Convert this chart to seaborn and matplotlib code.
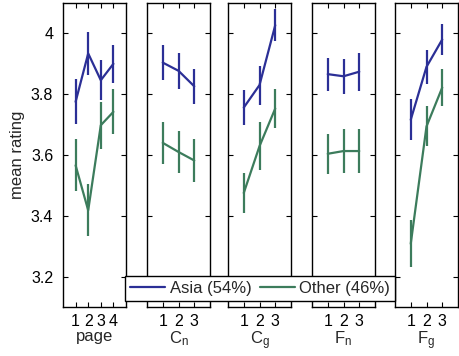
import numpy as np
import pandas as pd
import matplotlib
matplotlib.use("Agg")
import matplotlib.pyplot as plt
import seaborn as sns
from matplotlib.lines import Line2D

sns.set_theme(style="white")
plt.rcParams['font.family'] = ['Liberation Sans', 'DejaVu Sans']
plt.rcParams['mathtext.default'] = 'regular'

panels = ["page", "$C_n$", "$C_g$", "$F_n$", "$F_g$"]
levels = [[1, 2, 3, 4], [1, 2, 3], [1, 2, 3], [1, 2, 3], [1, 2, 3]]

asia_mean = [[3.775, 3.934, 3.846, 3.900],
             [3.904, 3.877, 3.826],
             [3.756, 3.830, 4.027],
             [3.866, 3.859, 3.874],
             [3.716, 3.890, 3.980]]
asia_err = [[0.074, 0.071, 0.066, 0.062],
            [0.058, 0.060, 0.058],
            [0.058, 0.064, 0.052],
            [0.054, 0.058, 0.063],
            [0.067, 0.057, 0.050]]
other_mean = [[3.566, 3.418, 3.698, 3.742],
              [3.640, 3.610, 3.582],
              [3.475, 3.629, 3.753],
              [3.604, 3.613, 3.613],
              [3.308, 3.694, 3.822]]
other_err = [[0.086, 0.086, 0.077, 0.074],
             [0.070, 0.070, 0.070],
             [0.067, 0.078, 0.063],
             [0.065, 0.072, 0.071],
             [0.077, 0.066, 0.062]]

groups = ["Asia (54%)", "Other (46%)"]
colors = {"Asia (54%)": "#2B2F96", "Other (46%)": "#3C7C5C"}

rows = []
for i, p in enumerate(panels):
    for j, lv in enumerate(levels[i]):
        rows.append(dict(panel=p, level=lv, group=groups[0], mean=asia_mean[i][j], err=asia_err[i][j]))
        rows.append(dict(panel=p, level=lv, group=groups[1], mean=other_mean[i][j], err=other_err[i][j]))
df = pd.DataFrame(rows)

fig = plt.figure(figsize=(4.59, 3.56), dpi=100)
lefts = [63, 147, 228, 312, 395]
w = 63
top, bottom = 3, 307
W, H = 459, 356
for i, p in enumerate(panels):
    ax = fig.add_axes([lefts[i] / W, 1 - bottom / H, w / W, (bottom - top) / H])
    sub = df[df.panel == p]
    sns.lineplot(data=sub, x="level", y="mean", hue="group", palette=colors,
                 hue_order=groups, ax=ax, linewidth=1.6, legend=False)
    for g in groups:
        s = sub[sub.group == g]
        ax.vlines(s["level"], s["mean"] - s["err"], s["mean"] + s["err"],
                  color=colors[g], linewidth=1.6)
    n = len(levels[i])
    ax.set_xlim(0, n + 1)
    ax.set_ylim(3.1, 4.1)
    ax.set_xticks(levels[i])
    ax.set_xticklabels([str(v) for v in levels[i]])
    ax.set_yticks([3.2, 3.4, 3.6, 3.8, 4.0])
    ax.tick_params(direction="in", top=True, right=True, bottom=True, left=True,
                   length=3.5, width=0.8, colors="black", labelsize=11.5)
    ax.tick_params(axis="x", pad=5)
    ax.tick_params(axis="y", pad=7)
    if i == 0:
        ax.set_yticklabels(["3.2", "3.4", "3.6", "3.8", "4"])
        ax.set_ylabel("mean rating", fontsize=12, labelpad=4)
    else:
        ax.set_yticklabels([])
        ax.set_ylabel("")
    ax.set_xlabel(p, fontsize=12, labelpad=0)
    for sp in ax.spines.values():
        sp.set_color("black")
        sp.set_linewidth(1.0)

handles = [Line2D([], [], color=colors[g], linewidth=1.6) for g in groups]
leg = fig.legend(handles, groups, loc="center", bbox_to_anchor=(260 / W, 1 - 288.7 / H),
                 ncol=2, frameon=True, fontsize=12, handlelength=2.1,
                 handletextpad=0.25, columnspacing=0.5, borderpad=0.3,
                 borderaxespad=0, fancybox=False, framealpha=1)
leg.get_frame().set_edgecolor("black")
leg.get_frame().set_linewidth(1.0)
leg.set_zorder(10)

fig.savefig("out.png", dpi=100)
